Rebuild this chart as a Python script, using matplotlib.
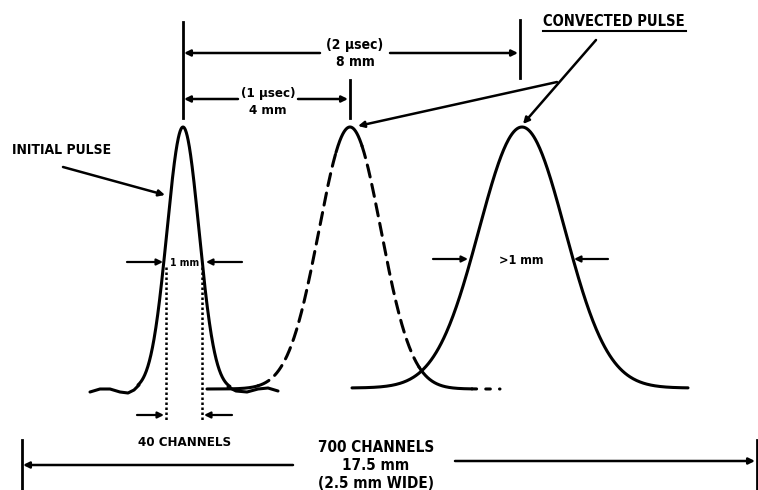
import numpy as np
import matplotlib
matplotlib.use('Agg')
import matplotlib.pyplot as plt

# pulse shapes (pixel units, y grows downward)
pulse_names = ['initial', 'convected 1 usec', 'convected 2 usec']
pulse_center = [183, 350, 522]
pulse_sigma = [16, 31, 43]
pulse_peak_y = [127, 127, 127]
pulse_base_y = [390, 389, 388]
pulse_span = [(138, 230), (207, 500), (352, 688)]

# little baseline wiggles on the initial pulse
wiggle_left_x = [90, 100, 110, 120, 128, 134, 139]
wiggle_left_y = [392, 389, 389, 392, 393, 390, 385]
wiggle_right_x = [228, 236, 247, 258, 268, 278]
wiggle_right_y = [387, 391, 392, 389, 388, 391]

# dashed / solid pieces of the 1 usec pulse
seg_x = [(207, 258), (258, 336), (336, 362), (362, 419), (419, 472), (472, 500)]
seg_style = ['-', (0, (4, 2.5)), '-', (0, (4, 2.5)), '-', (0, (1.5, 3))]

FONT = ['DejaVu Sans']
LW = 2.2


def bell(i, x):
    h = pulse_base_y[i] - pulse_peak_y[i]
    return pulse_base_y[i] - h * np.exp(-(x - pulse_center[i]) ** 2 / (2 * pulse_sigma[i] ** 2))


def arrow(x0, y0, x1, y1, lw=1.8):
    ax.annotate('', xy=(x1, y1), xytext=(x0, y0),
                arrowprops=dict(arrowstyle='-|>', color='black', lw=lw,
                                mutation_scale=9, shrinkA=0, shrinkB=0))


def label(x, y, s, size=10, ha='center'):
    ax.text(x, y, s, ha=ha, va='center', fontsize=size, fontweight='bold',
            fontstretch='condensed', family=FONT, color='black')


fig = plt.figure(figsize=(7.58, 4.90), dpi=100)
ax = fig.add_axes([0, 0, 1, 1])
ax.set_xlim(0, 758)
ax.set_ylim(490, 0)
ax.axis('off')

# initial pulse
x = np.linspace(pulse_span[0][0], pulse_span[0][1], 300)
ax.plot(x, bell(0, x), color='black', lw=LW, solid_capstyle='round')
ax.plot(wiggle_left_x, wiggle_left_y, color='black', lw=LW, solid_capstyle='round')
ax.plot(wiggle_right_x, wiggle_right_y, color='black', lw=LW, solid_capstyle='round')

# pulse after 1 usec, partly dashed
for (a, b), ls in zip(seg_x, seg_style):
    x = np.linspace(a, b, 200)
    ax.plot(x, bell(1, x), color='black', lw=LW, linestyle=ls,
            solid_capstyle='round', dash_capstyle='round')

# pulse after 2 usec
x = np.linspace(pulse_span[2][0], pulse_span[2][1], 400)
ax.plot(x, bell(2, x), color='black', lw=LW, solid_capstyle='round')

# top dimension lines
ax.plot([183, 183], [22, 118], color='black', lw=2)
ax.plot([520, 520], [20, 78], color='black', lw=2)
ax.plot([350, 350], [80, 118], color='black', lw=2)
arrow(320, 53, 184, 53)
arrow(390, 53, 518, 53)
label(355, 45, '(2 μsec)', 10)
label(355, 62, '8 mm', 10)
arrow(238, 99, 184, 99)
arrow(298, 99, 348, 99)
label(268, 94, '(1 μsec)', 9.5)
label(268, 110, '4 mm', 9.5)

# labels with pointer arrows
label(12, 150, 'INITIAL PULSE', 10, ha='left')
arrow(63, 167, 165, 195)
label(614, 22, 'CONVECTED PULSE', 10.5)
ax.plot([543, 686], [31, 31], color='black', lw=1.5)
arrow(596, 40, 523, 124)
arrow(557, 82, 358, 126)

# widths
label(185, 263, '1 mm', 7.5)
arrow(127, 262, 163, 262, lw=1.6)
arrow(242, 262, 206, 262, lw=1.6)
label(521, 260, '>1 mm', 9)
arrow(433, 259, 468, 259, lw=1.6)
arrow(608, 259, 574, 259, lw=1.6)

# channel markers
ax.plot([166, 166], [267, 420], color='black', lw=1.8, linestyle=(0, (1, 1)))
ax.plot([202, 202], [267, 420], color='black', lw=1.8, linestyle=(0, (1, 1)))
arrow(137, 415, 164, 415, lw=1.6)
arrow(232, 415, 204, 415, lw=1.6)
label(185, 442, '40 CHANNELS', 9.5)

ax.plot([22, 22], [440, 490], color='black', lw=2)
ax.plot([757, 757], [440, 490], color='black', lw=2)
arrow(293, 465, 23, 465)
arrow(455, 461, 755, 461)
label(376, 447, '700 CHANNELS', 11)
label(376, 465, '17.5 mm', 11)
label(376, 483, '(2.5 mm WIDE)', 11)

plt.savefig('out.png', dpi=100)
